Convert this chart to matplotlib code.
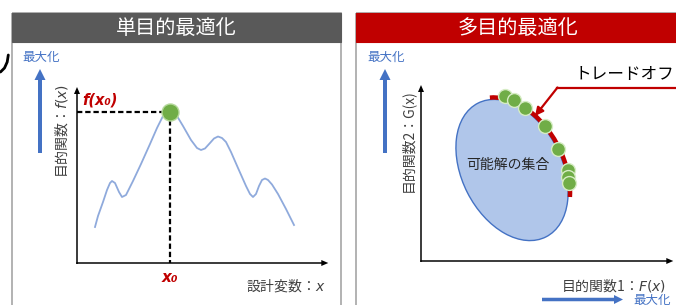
import matplotlib
matplotlib.use('Agg')
import matplotlib.pyplot as plt
from matplotlib.patches import Rectangle, Ellipse, Arc

plt.rcParams['font.family'] = ['Noto Sans CJK JP', 'DejaVu Sans']
plt.rcParams['mathtext.fontset'] = 'dejavusans'

# ---- data (pixel-like diagram units) ----
titles = ['単目的最適化', '多目的最適化']
title_colors = ['#595959', '#C00000']

# single-objective curve f(x)
curve_x = [95, 98, 103, 107, 110, 112, 115, 119, 122, 126, 133, 141, 150, 157,
           163, 167, 170, 173, 177, 183, 191, 197, 201, 205, 210, 214, 218, 222,
           226, 231, 238, 246, 250, 253, 256, 259, 262, 265, 268, 272, 278, 286,
           294]
curve_y = [227, 216, 202, 190, 183, 181, 183, 192, 197, 195, 181, 164, 144, 128,
           116, 111.5, 110.5, 111.5, 116, 126, 140, 148, 150, 148.5, 143, 138.5,
           136.5, 138, 142, 152, 168, 186, 194, 197, 194, 186, 180, 178.5, 180,
           184.5, 194, 209, 225]
opt_x = [170]
opt_y = [112]

# multi-objective pareto points
pareto_F = [505, 514, 525, 545, 558, 568, 568, 569]
pareto_G = [96, 100, 108, 126, 149, 170, 177, 183]

# feasible set (ellipse)
feas_center = (512, 170)
feas_w, feas_h, feas_angle = 150, 100, 63

BLUE = '#4472C4'
RED = '#C00000'
GREEN = '#70AD47'
TXT = '#404040'

fig = plt.figure(figsize=(6.76, 3.05), dpi=100)
ax = fig.add_axes([0, 0, 1, 1])
ax.set_xlim(0, 676)
ax.set_ylim(305, 0)
ax.axis('off')

# stray stroke at far left
ax.plot([8.3, 7.2, 4.5, 0.5], [55, 62, 68, 72], color='black', lw=2,
        solid_capstyle='round')

# panels
panels = [(12, 341), (356, 690)]
for (x0, x1), t, c in zip(panels, titles, title_colors):
    ax.add_patch(Rectangle((x0, 13), x1 - x0, 300, fill=False,
                           edgecolor='#A6A6A6', lw=1.2))
    ax.add_patch(Rectangle((x0, 13), x1 - x0, 29, facecolor=c, edgecolor=c, lw=0.8))
cx = [176, 518]
for t, x in zip(titles, cx):
    ax.text(x, 28, t, color='white', fontsize=14.5, ha='center', va='center')

def axis_arrow(x, y, dx, dy, w=1.5, hw=6, hl=7, color='black'):
    ax.arrow(x, y, dx, dy, width=w, head_width=hw, head_length=hl,
             length_includes_head=True, color=color, lw=0)

# ---------------- left panel ----------------
ax.text(41, 57, '最大化', color=BLUE, fontsize=9, ha='center', va='center')
axis_arrow(40, 153, 0, -84, w=4, hw=11, hl=11, color=BLUE)
ax.text(62, 131, '目的関数：$f(x)$', color=TXT, fontsize=10, rotation=90,
        ha='center', va='center')
axis_arrow(77, 264, 0, -177)
axis_arrow(76.3, 263, 252, 0)

ax.plot(curve_x, curve_y, color='#8FAADC', lw=1.3, solid_joinstyle='round')
ax.plot([77, opt_x[0]], [opt_y[0], opt_y[0]], color='black', lw=1.6,
        dashes=(2.4, 1.3))
ax.plot([opt_x[0], opt_x[0]], [opt_y[0], 263], color='black', lw=1.6,
        dashes=(2.4, 1.3))
ax.scatter(opt_x, opt_y, s=150, color=GREEN, edgecolor='#B5D99C', lw=1, zorder=5)
ax.text(82, 100, 'f(x₀)', color=RED, fontsize=10.5, fontweight='bold',
        fontstyle='italic', family='DejaVu Sans', ha='left', va='center')
ax.text(170, 277, 'x₀', color=RED, fontsize=11, fontweight='bold',
        fontstyle='italic', family='DejaVu Sans', ha='center', va='center')
ax.text(326, 286, '設計変数：$x$', color=TXT, fontsize=10, ha='right', va='center')

# ---------------- right panel ----------------
ax.text(386, 57, '最大化', color=BLUE, fontsize=9, ha='center', va='center')
axis_arrow(385, 153, 0, -84, w=4, hw=11, hl=11, color=BLUE)
ax.text(408, 141, '目的関数2：G(x)', color=TXT, fontsize=10, rotation=90,
        ha='center', va='center')
axis_arrow(421, 262, 0, -177)
axis_arrow(420.3, 261, 253, 0)
ax.text(666, 286, '目的関数1：$F(x)$', color=TXT, fontsize=10, ha='right',
        va='center')
axis_arrow(542, 299.5, 81, 0, w=3.5, hw=9, hl=9, color=BLUE)
ax.text(633, 300, '最大化', color=BLUE, fontsize=9, ha='left', va='center')

ax.add_patch(Ellipse(feas_center, feas_w, feas_h, angle=feas_angle,
                     facecolor='#B0C6EA', edgecolor=BLUE, lw=1))
ax.add_patch(Arc(feas_center, feas_w + 4, feas_h + 4, angle=feas_angle,
                 theta1=190, theta2=322, color=RED, lw=3.2))
ax.text(508, 165, '可能解の集合', color='#262626', fontsize=10,
        ha='center', va='center')
ax.scatter(pareto_F, pareto_G, s=100, color=GREEN, edgecolor='#D6ECC4',
           lw=1, zorder=5)

# trade-off annotation
ax.text(674, 74, 'トレードオフ', color='black', fontsize=12, ha='right',
        va='center')
ax.plot([680, 557], [88, 88], color=RED, lw=1.6)
ax.annotate('', xy=(535, 116), xytext=(557.5, 87.5),
            arrowprops=dict(arrowstyle='-|>', color=RED, lw=1.6,
                            mutation_scale=12, shrinkA=0, shrinkB=0))

fig.savefig('out.png', dpi=100)
